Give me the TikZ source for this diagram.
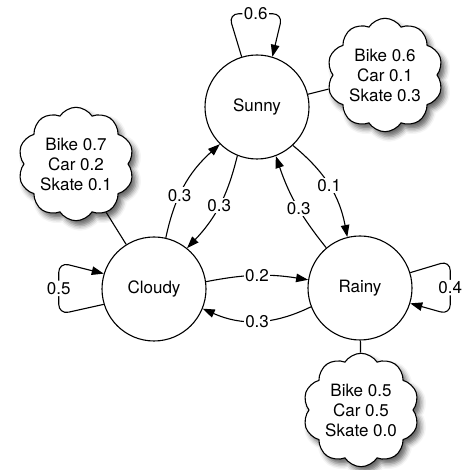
\documentclass[tikz,border=0pt]{standalone}
\usepackage{fontspec}
\setmainfont{TeX Gyre Heros}
\usetikzlibrary{shapes.symbols,shadows.blur,arrows.meta}

\begin{document}
\begin{tikzpicture}[
x=1pt, y=1pt,
line width=1.1pt,
>={Triangle[length=12pt,width=8.5pt]},
every node/.style={font=\fontsize{17}{20}\selectfont},
state/.style={circle, draw, minimum size=104pt, inner sep=0pt},
emit/.style={cloud, draw, fill=white, cloud puffs=10, cloud puff arc=115, aspect=1, minimum width=116pt, minimum height=112pt, align=center, inner sep=0pt, blur shadow={shadow xshift=4pt, shadow yshift=-5pt, shadow blur radius=5pt, shadow opacity=60}},
prob/.style={fill=white, inner sep=1.5pt},
selfloop/.style={->, rounded corners=10pt}
]
\useasboundingbox (0,0) rectangle (464,470);

\node[state] (sunny) at (257,363) {Sunny};
\node[state] (cloudy) at (154,181) {Cloudy};
\node[state] (rainy) at (360,182) {Rainy};

\node[emit] (sunnyobs) at (385,395) {Bike 0.6\\Car 0.1\\Skate 0.3};
\node[emit] (cloudyobs) at (76,306) {Bike 0.7\\Car 0.2\\Skate 0.1};
\node[emit] (rainyobs) at (361,60) {Bike 0.5\\Car 0.5\\Skate 0.0};

\draw (sunny) -- (sunnyobs);
\draw (cloudy) -- (cloudyobs);
\draw (rainy) -- (rainyobs);

\draw[selfloop] (sunny.107) -- ++(-13,43) -- node[prob] {0.6} ++(54,0) -- (sunny.73);
\draw[selfloop] (cloudy.197) -- ++(-45,-10) -- node[prob] {0.5} ++(0,52) -- (cloudy.163);
\draw[selfloop] (rainy.17) -- ++(40,12) -- node[prob] {0.4} ++(0,-54) -- (rainy.343);

\draw[->] (cloudy.77) to[bend left=18] node[prob, pos=0.4] {0.3} (sunny.225);
\draw[->] (sunny.248) to[bend left=15] node[prob] {0.3} (cloudy.51);
\draw[->] (sunny.313) to[bend left=20] node[prob] {0.1} (rainy.104);
\draw[->] (rainy.130) to[bend left=10] node[prob, pos=0.45] {0.3} (sunny.291);
\draw[->] (cloudy.8) to[bend left=10] node[prob] {0.2} (rainy.171);
\draw[->] (rainy.201) to[bend left=25] node[prob] {0.3} (cloudy.338);
\end{tikzpicture}
\end{document}
